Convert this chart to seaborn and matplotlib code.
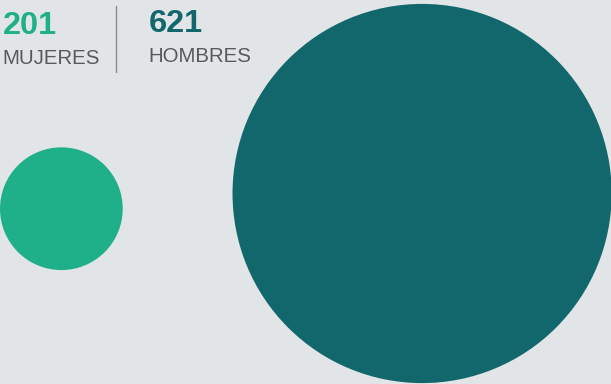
import numpy as np
import pandas as pd
import matplotlib
matplotlib.use("Agg")
import matplotlib.pyplot as plt
import seaborn as sns

# Headcount by sex
groups = ["MUJERES", "HOMBRES"]
counts = [201, 621]
colors = ["#20b089", "#12676d"]

BG = "#e2e5e8"
W, H, DPI = 611, 384, 100
PX_PER_UNIT = 0.3053          # circle radius in pixels per person

sns.set_theme(style="white")
plt.rcParams["font.family"] = ["Liberation Sans", "DejaVu Sans"]

fig = plt.figure(figsize=(W / DPI, H / DPI), dpi=DPI, facecolor=BG)
ax = fig.add_axes([0, 0, 1, 1], facecolor=BG)
ax.set_xlim(0, W)
ax.set_ylim(H, 0)
ax.set_axis_off()

radii = [c * PX_PER_UNIT for c in counts]
# small circle hugs the left edge, large one the right edge
cx = [radii[0], W + 0.7 - radii[1]]
cy = [208.7, 193.5]
# scatter size is area in pt^2 of the marker's diameter
sizes = {g: (2 * r * 72 / DPI) ** 2 for g, r in zip(groups, radii)}

df = pd.DataFrame({"grupo": groups, "x": cx, "y": cy})
sns.scatterplot(data=df, x="x", y="y", hue="grupo", size="grupo",
                palette=dict(zip(groups, colors)), sizes=sizes,
                linewidth=0, legend=False, ax=ax, alpha=1)
ax.set_xlim(0, W)
ax.set_ylim(H, 0)

# header labels
text_gray = "#58595b"
label_x = [2.5, 148.5]
num_base = [34, 32]
lab_base = [64, 62]
for g, c, col, lx, nb, lb in zip(groups, counts, colors, label_x, num_base, lab_base):
    ax.text(lx, nb, f"{c}", color=col, fontsize=23.4, fontweight="bold",
            va="baseline", ha="left")
    ax.text(lx, lb, g, color=text_gray, fontsize=14.7,
            va="baseline", ha="left")

ax.plot([115.7, 115.7], [6, 72], color="#8a8c8e", lw=1.0)

fig.savefig("out.png", dpi=DPI, facecolor=BG)
